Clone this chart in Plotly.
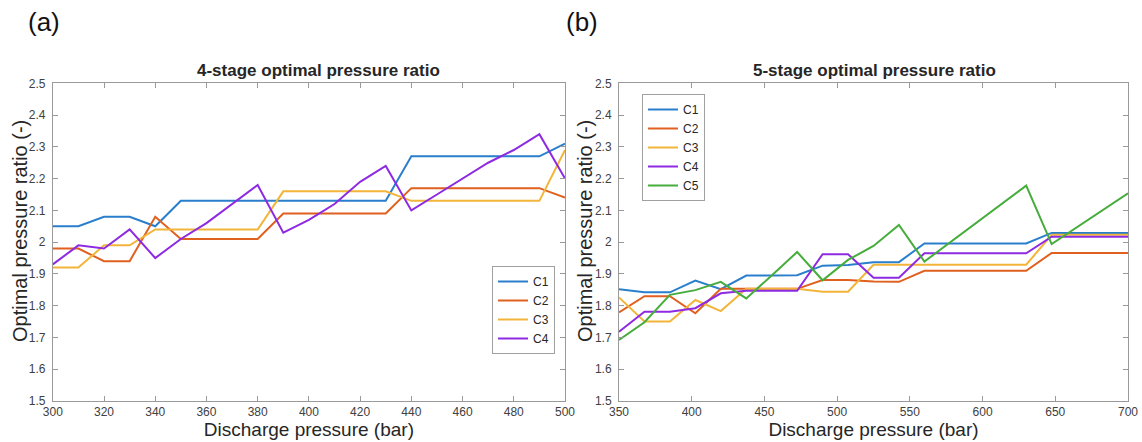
import plotly.graph_objects as go

# ---------------- data ----------------
series_names_a = ["C1", "C2", "C3", "C4"]
series_names_b = ["C1", "C2", "C3", "C4", "C5"]

pressure_a = [300, 310, 320, 330, 340, 350, 360, 370, 380, 390, 400,
              410, 420, 430, 440, 450, 460, 470, 480, 490, 500]
c1_a = [2.05, 2.05, 2.08, 2.08, 2.05, 2.13, 2.13, 2.13, 2.13, 2.13, 2.13,
        2.13, 2.13, 2.13, 2.27, 2.27, 2.27, 2.27, 2.27, 2.27, 2.31]
c2_a = [1.98, 1.98, 1.94, 1.94, 2.08, 2.01, 2.01, 2.01, 2.01, 2.09, 2.09,
        2.09, 2.09, 2.09, 2.17, 2.17, 2.17, 2.17, 2.17, 2.17, 2.14]
c3_a = [1.92, 1.92, 1.99, 1.99, 2.04, 2.04, 2.04, 2.04, 2.04, 2.16, 2.16,
        2.16, 2.16, 2.16, 2.13, 2.13, 2.13, 2.13, 2.13, 2.13, 2.29]
c4_a = [1.93, 1.99, 1.98, 2.04, 1.95, 2.01, 2.06, 2.12, 2.18, 2.03, 2.07,
        2.12, 2.19, 2.24, 2.10, 2.15, 2.20, 2.25, 2.29, 2.34, 2.20]

pressure_b = [350, 367.5, 385, 402.5, 420, 437.5, 455, 472.5, 490, 507.5, 525,
              542.5, 560, 577.5, 595, 612.5, 630, 647.5, 665, 682.5, 700]
c1_b = [1.852, 1.842, 1.842, 1.879, 1.852, 1.895, 1.895, 1.896, 1.926, 1.928, 1.937,
        1.937, 1.996, 1.996, 1.996, 1.996, 1.996, 2.029, 2.029, 2.029, 2.029]
c2_b = [1.779, 1.830, 1.830, 1.776, 1.853, 1.853, 1.853, 1.853, 1.881, 1.881, 1.876,
        1.875, 1.910, 1.910, 1.910, 1.910, 1.910, 1.966, 1.966, 1.966, 1.966]
c3_b = [1.826, 1.750, 1.750, 1.818, 1.783, 1.853, 1.853, 1.853, 1.844, 1.844, 1.929,
        1.929, 1.929, 1.929, 1.929, 1.929, 1.929, 2.023, 2.023, 2.023, 2.023]
c4_b = [1.718, 1.781, 1.781, 1.792, 1.839, 1.847, 1.847, 1.847, 1.962, 1.962, 1.888,
        1.888, 1.965, 1.965, 1.965, 1.965, 1.965, 2.017, 2.017, 2.017, 2.017]
c5_b = [1.692, 1.748, 1.834, 1.849, 1.875, 1.823, 1.895, 1.969, 1.880, 1.944, 1.988,
        2.054, 1.939, 1.999, 2.058, 2.118, 2.178, 1.994, 2.047, 2.100, 2.154]

y_tickvals = [1.5, 1.6, 1.7, 1.8, 1.9, 2.0, 2.1, 2.2, 2.3, 2.4, 2.5]
y_ticktext = ["1.5", "1.6", "1.7", "1.8", "1.9", "2", "2.1", "2.2", "2.3", "2.4", "2.5"]
x_tickvals_a = [300, 320, 340, 360, 380, 400, 420, 440, 460, 480, 500]
x_tickvals_b = [350, 400, 450, 500, 550, 600, 650, 700]

title_a = "4-stage optimal pressure ratio"
title_b = "5-stage optimal pressure ratio"
x_title = "Discharge pressure (bar)"
y_title = "Optimal pressure ratio (-)"

# ---------------- styling ----------------
colors = ["#2a7fcc", "#e0601f", "#f2b53a", "#8e2be2", "#46ad3c"]
FONT = "Liberation Sans, Arial, sans-serif"
LINE_COL = "#9a9a9a"
TICK_COL = "#404040"
TEXT_COL = "#262626"

fig = go.Figure()

for name, ys, col in zip(series_names_a, [c1_a, c2_a, c3_a, c4_a], colors):
    fig.add_trace(go.Scatter(x=pressure_a, y=ys, mode="lines", name=name,
                             line=dict(color=col, width=2),
                             xaxis="x", yaxis="y", legend="legend"))

for name, ys, col in zip(series_names_b, [c1_b, c2_b, c3_b, c4_b, c5_b], colors):
    fig.add_trace(go.Scatter(x=pressure_b, y=ys, mode="lines", name=name,
                             line=dict(color=col, width=2),
                             xaxis="x2", yaxis="y2", legend="legend2"))

W, H = 1142, 442
dom_ya = [1 - 401 / H, 1 - 83.3 / H]

common_axis = dict(showline=True, linecolor=LINE_COL, linewidth=1, mirror="ticks",
                   ticks="inside", ticklen=5, tickcolor=LINE_COL, showgrid=False,
                   zeroline=False, automargin=False,
                   tickfont=dict(family=FONT, size=12, color=TICK_COL))
x_title_font = dict(family=FONT, size=19, color=TEXT_COL)

fig.update_layout(
    width=W, height=H, autosize=False,
    margin=dict(l=0, r=0, t=0, b=0, pad=0, autoexpand=False),
    paper_bgcolor="white", plot_bgcolor="white",
    font=dict(family=FONT, color=TICK_COL),
    showlegend=True,
    xaxis=dict(common_axis, domain=[52.8 / W, 565 / W], range=[300, 500],
               tickvals=x_tickvals_a, anchor="y",
               title=dict(text=x_title, font=x_title_font, standoff=0)),
    yaxis=dict(common_axis, domain=dom_ya, range=[1.5, 2.5],
               tickvals=y_tickvals, ticktext=y_ticktext, anchor="x",
               ticklabelstandoff=4),
    xaxis2=dict(common_axis, domain=[619 / W, 1128 / W], range=[350, 700],
                tickvals=x_tickvals_b, anchor="y2",
                title=dict(text=x_title, font=x_title_font, standoff=0)),
    yaxis2=dict(common_axis, domain=dom_ya, range=[1.5, 2.5],
                tickvals=y_tickvals, ticktext=y_ticktext, anchor="x2",
                ticklabelstandoff=4),
    legend=dict(x=555 / W, y=1 - 266 / H, xanchor="right", yanchor="top",
                bgcolor="white", bordercolor="#a0a0a0", borderwidth=1,
                font=dict(family=FONT, size=12, color=TEXT_COL),
                itemwidth=30, tracegroupgap=0),
    legend2=dict(x=642 / W, y=1 - 94 / H, xanchor="left", yanchor="top",
                 bgcolor="white", bordercolor="#a0a0a0", borderwidth=1,
                 font=dict(family=FONT, size=12, color=TEXT_COL),
                 itemwidth=30, tracegroupgap=0),
    annotations=[
        dict(text="<b>" + title_a + "</b>", x=318 / W, y=1 - 70 / H,
             xref="paper", yref="paper", showarrow=False, xanchor="center", yanchor="middle",
             font=dict(family=FONT, size=17, color=TEXT_COL)),
        dict(text="<b>" + title_b + "</b>", x=875 / W, y=1 - 70 / H,
             xref="paper", yref="paper", showarrow=False, xanchor="center", yanchor="middle",
             font=dict(family=FONT, size=17, color=TEXT_COL)),
        dict(text=y_title, x=20 / W, y=1 - 231 / H, xref="paper", yref="paper",
             showarrow=False, xanchor="center", yanchor="middle", textangle=-90,
             font=dict(family=FONT, size=20, color=TEXT_COL)),
        dict(text=y_title, x=585 / W, y=1 - 231 / H, xref="paper", yref="paper",
             showarrow=False, xanchor="center", yanchor="middle", textangle=-90,
             font=dict(family=FONT, size=20, color=TEXT_COL)),
        dict(text="(a)", x=26 / W, y=1 - 22 / H, xref="paper", yref="paper",
             showarrow=False, xanchor="left", yanchor="middle",
             font=dict(family=FONT, size=26, color="#111111")),
        dict(text="(b)", x=564 / W, y=1 - 22 / H, xref="paper", yref="paper",
             showarrow=False, xanchor="left", yanchor="middle",
             font=dict(family=FONT, size=26, color="#111111")),
    ],
)

fig.write_html("out.html", config={"displayModeBar": False},
               post_script="document.body.style.margin='0';document.body.style.padding='0';")
